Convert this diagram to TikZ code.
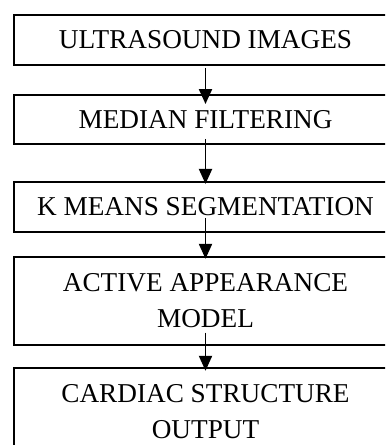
\documentclass[tikz,border=0pt]{standalone}
\usepackage{fontspec}
\setmainfont{Liberation Serif}
\usetikzlibrary{positioning}
\usetikzlibrary{arrows.meta}

\begin{document}
\begin{tikzpicture}[
    x=0.02cm, y=-0.02cm,
    box/.style={
      rectangle,
      draw,
      line width=1.1pt,
      minimum width=7.66cm,
      inner sep=0pt,
      align=center,
      font=\fontsize{15.5}{20.5}\selectfont
    },
    >={Triangle[length=8.5pt,width=7.5pt]},
    ]

    \clip (0,0) rectangle (385,445);

    \node (1) [box, minimum height=1cm] at (205.5,40) {ULTRASOUND IMAGES};
    \node (2) [box, minimum height=0.98cm, below=0.56cm of 1] {MEDIAN FILTERING};
    \node (3) [box, minimum height=1cm, below=0.72cm of 2] {K MEANS SEGMENTATION};
    \node (4) [box, minimum height=1.76cm, below=0.46cm of 3] {ACTIVE APPEARANCE\\MODEL};
    \node (5) [box, minimum height=1.76cm, below=0.42cm of 4] {CARDIAC STRUCTURE\\OUTPUT};

    \path[->, line width=0.85pt]
    ([yshift=-1.1pt]1.south) edge ([yshift=-5.7pt]2.north)
    ([yshift=3.4pt]2.south)  edge ([yshift=-1.7pt]3.north)
    ([yshift=8.5pt]3.south)  edge ([yshift=-1.7pt]4.north)
    ([yshift=7.4pt]4.south)  edge ([yshift=-2.3pt]5.north)
    ;
  \end{tikzpicture}
\end{document}
